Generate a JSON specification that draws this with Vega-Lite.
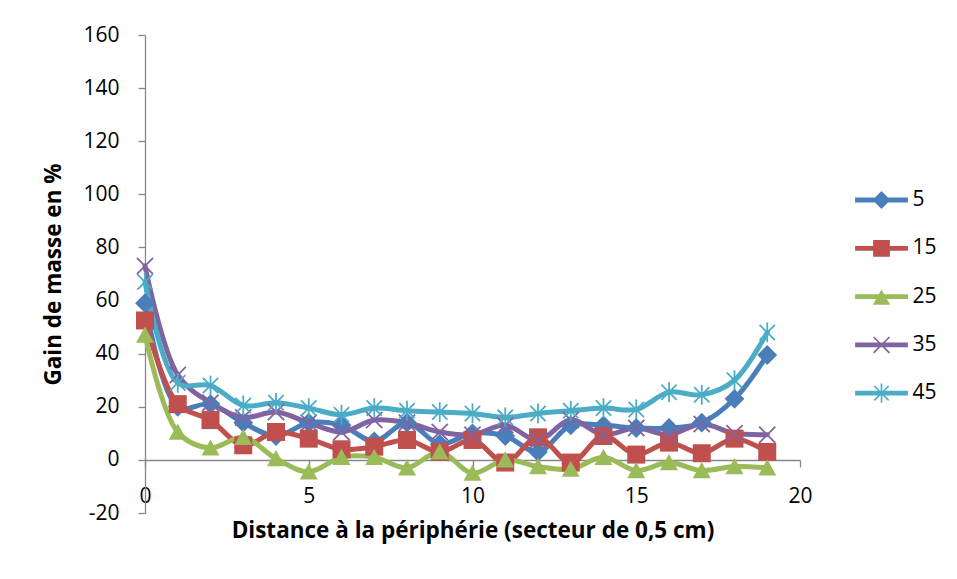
{
  "$schema": "https://vega.github.io/schema/vega-lite/v6.json",
  "width": 655,
  "height": 478,
  "autosize": {"type": "none"},
  "padding": {"left": 145, "top": 35, "right": 157, "bottom": 66},
  "background": "white",
  "config": {
    "font": "Open Sans",
    "view": {"stroke": null},
    "axis": {"labelFont": "Open Sans", "titleFont": "Open Sans", "labelColor": "#000000", "titleColor": "#000000", "domainColor": "#878787", "tickColor": "#878787", "domainWidth": 1.3, "tickWidth": 1.3, "grid": false}
  },
  "data": {"values": [
    {"x":0,"s":"5","v":59},{"x":1,"s":"5","v":20},{"x":2,"s":"5","v":21},{"x":3,"s":"5","v":14},{"x":4,"s":"5","v":9},{"x":5,"s":"5","v":14},{"x":6,"s":"5","v":13},{"x":7,"s":"5","v":7},{"x":8,"s":"5","v":14},{"x":9,"s":"5","v":6},{"x":10,"s":"5","v":10},{"x":11,"s":"5","v":9},{"x":12,"s":"5","v":3},{"x":13,"s":"5","v":13},{"x":14,"s":"5","v":13},{"x":15,"s":"5","v":12},{"x":16,"s":"5","v":12},{"x":17,"s":"5","v":14},{"x":18,"s":"5","v":23},{"x":19,"s":"5","v":39.5},
    {"x":0,"s":"15","v":52.5},{"x":1,"s":"15","v":21},{"x":2,"s":"15","v":15},{"x":3,"s":"15","v":5.5},{"x":4,"s":"15","v":10.5},{"x":5,"s":"15","v":8},{"x":6,"s":"15","v":4},{"x":7,"s":"15","v":5},{"x":8,"s":"15","v":7.5},{"x":9,"s":"15","v":3},{"x":10,"s":"15","v":7.5},{"x":11,"s":"15","v":-1},{"x":12,"s":"15","v":8.5},{"x":13,"s":"15","v":-1},{"x":14,"s":"15","v":9},{"x":15,"s":"15","v":2},{"x":16,"s":"15","v":6.5},{"x":17,"s":"15","v":2.5},{"x":18,"s":"15","v":8},{"x":19,"s":"15","v":3},
    {"x":0,"s":"25","v":47},{"x":1,"s":"25","v":10.5},{"x":2,"s":"25","v":4.5},{"x":3,"s":"25","v":8.5},{"x":4,"s":"25","v":0.5},{"x":5,"s":"25","v":-4.5},{"x":6,"s":"25","v":1},{"x":7,"s":"25","v":1},{"x":8,"s":"25","v":-3},{"x":9,"s":"25","v":3},{"x":10,"s":"25","v":-5},{"x":11,"s":"25","v":0},{"x":12,"s":"25","v":-2.5},{"x":13,"s":"25","v":-3.5},{"x":14,"s":"25","v":1},{"x":15,"s":"25","v":-4},{"x":16,"s":"25","v":-1},{"x":17,"s":"25","v":-4},{"x":18,"s":"25","v":-2.5},{"x":19,"s":"25","v":-3},
    {"x":0,"s":"35","v":73},{"x":1,"s":"35","v":32},{"x":2,"s":"35","v":21.5},{"x":3,"s":"35","v":16},{"x":4,"s":"35","v":18},{"x":5,"s":"35","v":14},{"x":6,"s":"35","v":10.5},{"x":7,"s":"35","v":15},{"x":8,"s":"35","v":14},{"x":9,"s":"35","v":10.5},{"x":10,"s":"35","v":9.5},{"x":11,"s":"35","v":13},{"x":12,"s":"35","v":7.5},{"x":13,"s":"35","v":15},{"x":14,"s":"35","v":9.5},{"x":15,"s":"35","v":12},{"x":16,"s":"35","v":9.5},{"x":17,"s":"35","v":13.5},{"x":18,"s":"35","v":10},{"x":19,"s":"35","v":9.5},
    {"x":0,"s":"45","v":67},{"x":1,"s":"45","v":29},{"x":2,"s":"45","v":28},{"x":3,"s":"45","v":20.5},{"x":4,"s":"45","v":21.5},{"x":5,"s":"45","v":19.5},{"x":6,"s":"45","v":17},{"x":7,"s":"45","v":19.5},{"x":8,"s":"45","v":18.5},{"x":9,"s":"45","v":18},{"x":10,"s":"45","v":17.5},{"x":11,"s":"45","v":16},{"x":12,"s":"45","v":17.5},{"x":13,"s":"45","v":18.5},{"x":14,"s":"45","v":19.5},{"x":15,"s":"45","v":19},{"x":16,"s":"45","v":25.5},{"x":17,"s":"45","v":24.5},{"x":18,"s":"45","v":30},{"x":19,"s":"45","v":48}
  ]},
  "encoding": {
    "x": {"field": "x", "type": "quantitative",
      "scale": {"domain": [0, 20], "nice": false, "zero": false},
      "axis": {"values": [0, 5, 10, 15, 20], "offset": -53, "tickSize": 7, "labelPadding": 18, "labelFontSize": 21, "labelFlush": false, "labelOverlap": false,
        "title": "Distance à la périphérie (secteur de 0,5 cm)", "titleFontSize": 22.5, "titleFontWeight": "bold", "titlePadding": 13}},
    "y": {"field": "v", "type": "quantitative",
      "scale": {"domain": [-20, 160], "nice": false, "zero": false},
      "axis": {"values": [-20, 0, 20, 40, 60, 80, 100, 120, 140, 160], "tickSize": 7, "labelPadding": 19, "labelFontSize": 21,
        "labelExpr": "replace(datum.label, '\u2212', '-')",
        "title": "Gain de masse en %", "titleFontSize": 22.5, "titleFontWeight": "bold", "titlePadding": 17}}
  },
  "layer": [
    {
      "mark": {"type": "line", "interpolate": "catmull-rom", "strokeWidth": 5, "strokeJoin": "round", "strokeCap": "round"},
      "encoding": {
        "stroke": {"field": "s", "type": "nominal", "legend": null,
          "scale": {"domain": ["5", "15", "25", "35", "45"], "range": ["#4A7EBB", "#C0504D", "#9BBB59", "#8064A2", "#4BACC6"]}},
        "detail": {"field": "s"}
      }
    },
    {
      "mark": {"type": "point", "filled": true, "opacity": 1, "size": 324},
      "encoding": {
        "fill": {"field": "s", "type": "nominal", "legend": null,
          "scale": {"domain": ["5", "15", "25", "35", "45"], "range": ["#4A7EBB", "#C0504D", "#9BBB59", "#8064A2", "#4BACC6"]}},
        "shape": {"field": "s", "type": "nominal", "legend": null,
          "scale": {"domain": ["5", "15", "25", "35", "45"], "range": [
            "M0,-1.1L1.1,0L0,1.1L-1.1,0Z",
            "M-1,-1H1V1H-1Z",
            "M0,-0.95L1,0.85H-1Z",
            "M-0.83,-0.97L0.97,0.83L0.83,0.97L-0.97,-0.83Z M-0.97,0.83L0.83,-0.97L0.97,-0.83L-0.83,0.97Z",
            "M-0.78,-0.92L0.92,0.78L0.78,0.92L-0.92,-0.78Z M-0.92,0.78L0.78,-0.92L0.92,-0.78L-0.78,0.92Z M-0.1,-1.1L0.1,-1.1L0.1,1.1L-0.1,1.1Z"
          ]}}
      }
    },
    {
      "mark": {"type": "point", "filled": true, "opacity": 0, "size": 2304},
      "encoding": {
        "color": {"field": "s", "type": "nominal",
          "scale": {"domain": ["5", "15", "25", "35", "45"], "range": ["#4A7EBB", "#C0504D", "#9BBB59", "#8064A2", "#4BACC6"]},
          "legend": {"title": null, "orient": "none", "legendX": 712.5, "legendY": 141, "padding": 0, "rowPadding": 14.3, "labelOffset": 7, "labelFontSize": 21, "labelFont": "Open Sans", "labelColor": "#000000", "symbolSize": 2304, "symbolOpacity": 1, "symbolStrokeWidth": 0}},
        "shape": {"field": "s", "type": "nominal",
          "scale": {"domain": ["5", "15", "25", "35", "45"], "range": [
            "M-1.1,-0.1H1.1V0.1H-1.1Z M0,-0.37L0.37,0L0,0.37L-0.37,0Z",
            "M-1.1,-0.1H1.1V0.1H-1.1Z M-0.35,-0.35H0.35V0.35H-0.35Z",
            "M-1.1,-0.1H1.1V0.1H-1.1Z M0,-0.3L0.36,0.34H-0.36Z",
            "M-1.1,-0.1H1.1V0.1H-1.1Z M-0.305,-0.355L0.355,0.305L0.305,0.355L-0.355,-0.305Z M-0.355,0.305L0.305,-0.355L0.355,-0.305L-0.305,0.355Z",
            "M-1.1,-0.1H1.1V0.1H-1.1Z M-0.275,-0.325L0.325,0.275L0.275,0.325L-0.325,-0.275Z M-0.325,0.275L0.275,-0.325L0.325,-0.275L-0.275,0.325Z M-0.035,-0.4L0.035,-0.4L0.035,0.4L-0.035,0.4Z"
          ]},
          "legend": {"title": null, "orient": "none", "legendX": 712.5, "legendY": 141, "padding": 0, "rowPadding": 14.3, "labelOffset": 7, "labelFontSize": 21, "labelFont": "Open Sans", "labelColor": "#000000", "symbolSize": 2304, "symbolOpacity": 1, "symbolStrokeWidth": 0}}
      }
    }
  ],
  "resolve": {"scale": {"shape": "independent", "color": "independent"}}
}
